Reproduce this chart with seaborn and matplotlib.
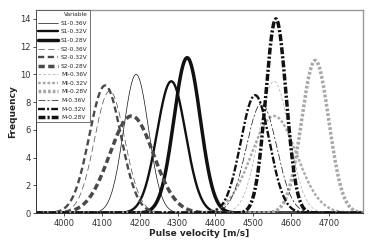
import numpy as np
import pandas as pd
import matplotlib
matplotlib.use("Agg")
import matplotlib.pyplot as plt
import seaborn as sns

sns.set_style("ticks")
plt.rcParams['font.family'] = ['DejaVu Sans']
plt.rcParams['lines.scale_dashes'] = False

# fitted normal curves: label, mean, sd, peak height
labels = ["S1-0.36V", "S1-0.32V", "S1-0.28V",
          "S2-0.36V", "S2-0.32V", "S2-0.28V",
          "MI-0.36V", "MI-0.32V", "MI-0.28V",
          "M-0.36V", "M-0.32V", "M-0.28V"]
means = [4190, 4283, 4325, 4120, 4108, 4178, 4555, 4555, 4664, 4522, 4505, 4560]
sds = [33, 38, 35, 40, 42, 58, 40, 60, 36, 40, 38, 27]
peaks = [10.0, 9.5, 11.2, 8.8, 9.2, 7.0, 9.5, 7.0, 11.0, 7.9, 8.5, 14.0]

xticks = [4000, 4100, 4200, 4300, 4400, 4500, 4600, 4700]
yticks = [0, 2, 4, 6, 8, 10, 12, 14]

# line styles per group (S1, S2, MI, M) and per voltage (thin, medium, thick)
colors = {"S1": "#111111", "S2": "#4a4a4a", "MI": "#a8a8a8", "M": "#111111"}
dashes = {"S1": "-", "S2": (0, (4.5, 2.5)), "MI": (0, (2.0, 1.4)),
          "M": (0, (5, 1.5, 1.5, 1.5))}
widths = [0.5, 1.7, 2.5]

x = np.linspace(3925, 4790, 600)
rows = []
for lab, m, s, p in zip(labels, means, sds, peaks):
    y = p * np.exp(-0.5 * ((x - m) / s) ** 2)
    rows.append(pd.DataFrame({"x": x, "y": y, "Variable": lab}))
df = pd.concat(rows)

fig = plt.figure(figsize=(3.71, 2.41), dpi=100)
ax = fig.add_axes([0.097, 0.116, 0.881, 0.843])

for i, lab in enumerate(labels):
    grp = lab.split("-")[0]
    sub = df[df["Variable"] == lab]
    sns.lineplot(data=sub, x="x", y="y", ax=ax, color=colors[grp],
                 linewidth=widths[i % 3], linestyle=dashes[grp], label=lab)

ax.set_xlim(3925, 4790)
ax.set_ylim(0, 14.65)
ax.set_xticks(xticks)
ax.set_yticks(yticks)
ax.tick_params(labelsize=6, length=2.5, width=0.6, pad=1.5, colors="#333333")
ax.set_xlabel("Pulse velocity [m/s]", fontsize=6.5, fontweight="bold", labelpad=1)
ax.set_ylabel("Frequency", fontsize=6.5, fontweight="bold", labelpad=2)
for side in ["top", "right"]:
    ax.spines[side].set_color("#999999")
    ax.spines[side].set_linewidth(1.0)
for side in ["left", "bottom"]:
    ax.spines[side].set_color("#333333")
    ax.spines[side].set_linewidth(0.7)

leg = ax.legend(loc="upper left", fontsize=4.2, title="Variable", title_fontsize=4.2,
                frameon=True, fancybox=False, edgecolor="#333333",
                handlelength=3.4, labelspacing=0.6, borderpad=0.35,
                borderaxespad=0.05, handletextpad=0.5)
leg.get_frame().set_linewidth(0.6)
leg._legend_box.align = "right"

fig.savefig("out.png", dpi=100)
